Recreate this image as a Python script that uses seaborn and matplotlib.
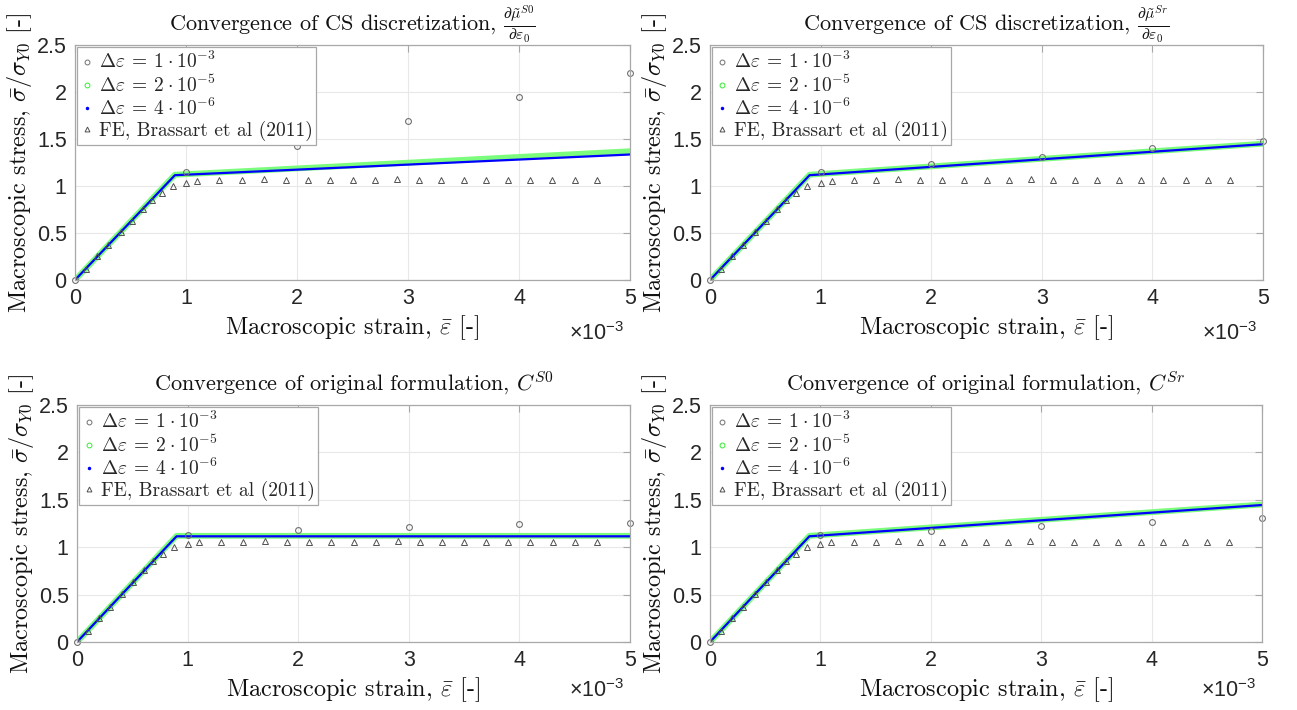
import matplotlib
matplotlib.use("Agg")
import matplotlib.pyplot as plt
import seaborn as sns
from matplotlib.lines import Line2D
from matplotlib.ticker import FixedLocator, FuncFormatter

# ---------------- data ----------------
# FE reference, Brassart et al (2011) (same in every panel)
fe_strain = [0.0, 0.10e-3, 0.20e-3, 0.30e-3, 0.41e-3, 0.51e-3, 0.61e-3, 0.69e-3,
             0.78e-3, 0.88e-3, 1.00e-3, 1.10e-3, 1.30e-3, 1.50e-3, 1.70e-3, 1.90e-3,
             2.10e-3, 2.30e-3, 2.50e-3, 2.70e-3, 2.90e-3, 3.10e-3, 3.30e-3, 3.50e-3,
             3.70e-3, 3.90e-3, 4.10e-3, 4.30e-3, 4.50e-3, 4.70e-3]
fe_stress = [0.0, 0.12, 0.25, 0.37, 0.51, 0.63, 0.76, 0.85,
             0.93, 1.00, 1.03, 1.05, 1.06, 1.06, 1.07, 1.06,
             1.06, 1.06, 1.06, 1.06, 1.07, 1.06, 1.06, 1.06,
             1.06, 1.06, 1.06, 1.06, 1.06, 1.06]

# coarse increment  d_eps = 1e-3
coarse_strain = [0.0, 1e-3, 2e-3, 3e-3, 4e-3, 5e-3]
coarse_cs_s0 = [0.0, 1.15, 1.43, 1.69, 1.95, 2.20]
coarse_cs_sr = [0.0, 1.15, 1.23, 1.31, 1.40, 1.48]
coarse_orig_s0 = [0.0, 1.13, 1.18, 1.21, 1.24, 1.26]
coarse_orig_sr = [0.0, 1.13, 1.17, 1.22, 1.27, 1.31]

# fine increments (piecewise-linear response: origin, yield knee, end)
fine_strain = [0.0, 0.9e-3, 5e-3]
mid_cs_s0 = [0.0, 1.12, 1.37]     # d_eps = 2e-5
fine_cs_s0 = [0.0, 1.115, 1.335]  # d_eps = 4e-6
mid_cs_sr = [0.0, 1.12, 1.45]
fine_cs_sr = [0.0, 1.115, 1.445]
mid_orig_s0 = [0.0, 1.12, 1.12]
fine_orig_s0 = [0.0, 1.115, 1.115]
mid_orig_sr = [0.0, 1.12, 1.45]
fine_orig_sr = [0.0, 1.115, 1.445]

titles = [
    r"Convergence of CS discretization, $\frac{\partial\tilde{\mu}^{S0}}{\partial\varepsilon_0}$",
    r"Convergence of CS discretization, $\frac{\partial\tilde{\mu}^{Sr}}{\partial\varepsilon_0}$",
    r"Convergence of original formulation, $C^{S0}$",
    r"Convergence of original formulation, $C^{Sr}$",
]
legend_labels = [r"$\Delta\varepsilon\:=\:1\:\cdot\:10^{-3}$",
                 r"$\Delta\varepsilon\:=\:2\:\cdot\:10^{-5}$",
                 r"$\Delta\varepsilon\:=\:4\:\cdot\:10^{-6}$",
                 "FE, Brassart et al (2011)"]
x_ticks = [0, 1e-3, 2e-3, 3e-3, 4e-3, 5e-3]
y_ticks = [0, 0.5, 1.0, 1.5, 2.0, 2.5]
xlabel = r"Macroscopic strain, $\bar{\varepsilon}$ [-]"
ylabel = r"Macroscopic stress, $\bar{\sigma}/\sigma_{Y0}$ [-]"

panels = [
    (coarse_cs_s0, mid_cs_s0, fine_cs_s0),
    (coarse_cs_sr, mid_cs_sr, fine_cs_sr),
    (coarse_orig_s0, mid_orig_s0, fine_orig_s0),
    (coarse_orig_sr, mid_orig_sr, fine_orig_sr),
]

# ---------------- style ----------------
sns.set_style("white")
plt.rcParams["font.family"] = ["Liberation Sans", "DejaVu Sans"]
plt.rcParams["mathtext.fontset"] = "cm"
plt.rcParams["mathtext.rm"] = "Liberation Sans"
plt.rcParams["mathtext.it"] = "Liberation Sans:italic"

SERIF = "cmr10"
SPINE = "#a8a8a8"
GRID = "#e8e8e8"
C_COARSE = "#707070"
C_MID = "#7cfc7c"
C_FINE = "#0000ff"
C_FE = "#505050"

fig = plt.figure(figsize=(12.97, 7.10), dpi=100)
W, H = 1297, 710
boxes = [(75, 630, 45, 280), (710, 1263, 45, 280),
         (77, 630, 405, 642), (710, 1262, 405, 642)]
offset_y = [-0.23, -0.23, -0.205, -0.205]

for i, ((l, r, t, b), (coarse, mid, fine)) in enumerate(zip(boxes, panels)):
    ax = fig.add_axes([l / W, 1 - b / H, (r - l) / W, (b - t) / H])
    ax.grid(True, color=GRID, lw=0.8)
    ax.set_axisbelow(True)

    sns.lineplot(x=fine_strain, y=mid, ax=ax, color=C_MID, lw=4.2,
                 estimator=None, sort=False, legend=False)
    sns.lineplot(x=fine_strain, y=fine, ax=ax, color=C_FINE, lw=1.6,
                 estimator=None, sort=False, legend=False)
    sns.lineplot(x=coarse_strain, y=coarse, ax=ax, color=C_COARSE, ls="none",
                 marker="o", ms=4.2, mfc="none", mec=C_COARSE, mew=0.8,
                 estimator=None, sort=False, legend=False, clip_on=False)
    sns.lineplot(x=fe_strain, y=fe_stress, ax=ax, color=C_FE, ls="none",
                 marker="^", ms=4.3, mfc="none", mec=C_FE, mew=0.7,
                 estimator=None, sort=False, legend=False)

    ax.set_xlim(0, 5e-3)
    ax.set_ylim(0, 2.5)
    ax.xaxis.set_major_locator(FixedLocator(x_ticks))
    ax.yaxis.set_major_locator(FixedLocator(y_ticks))
    ax.xaxis.set_major_formatter(FuncFormatter(lambda v, p: f"{v * 1e3:g}"))
    ax.yaxis.set_major_formatter(FuncFormatter(lambda v, p: f"{v:g}"))
    ax.tick_params(direction="in", top=True, right=True, length=5, width=0.8,
                   color=SPINE, labelsize=15.5, labelcolor="#262626", pad=6)
    for s in ax.spines.values():
        s.set_color(SPINE)
        s.set_linewidth(0.9)

    ax.set_title(titles[i], fontfamily=SERIF, fontsize=16, pad=10, color="#111111")
    ax.set_xlabel(xlabel, fontfamily=SERIF, fontsize=17.5, labelpad=3, color="#111111")
    ax.set_ylabel(ylabel, fontfamily=SERIF, fontsize=17.5, labelpad=2, color="#111111")

    ax.text(0.99, offset_y[i], r"$\times\mathregular{10^{-3}}$", transform=ax.transAxes,
            ha="right", va="center", fontsize=15.5, color="#262626",
            math_fontfamily="custom")

    handles = [
        Line2D([], [], ls="none", marker="o", ms=3.5, mfc="none", mec=C_COARSE, mew=0.7),
        Line2D([], [], ls="none", marker="o", ms=3.5, mfc="none", mec="#33ee33", mew=0.7),
        Line2D([], [], ls="none", marker=".", ms=3.0, color=C_FINE),
        Line2D([], [], ls="none", marker="^", ms=3.5, mfc="none", mec=C_FE, mew=0.7),
    ]
    leg = ax.legend(handles, legend_labels, loc="upper left",
                    bbox_to_anchor=(0.0, 1.0), prop={"family": SERIF, "size": 14},
                    frameon=True, fancybox=False, framealpha=1, edgecolor=SPINE,
                    borderpad=0.2, handlelength=0.55, handletextpad=0.35,
                    labelspacing=0.1, borderaxespad=0.12)
    leg.get_frame().set_linewidth(0.9)

fig.savefig("out.png", dpi=100)
